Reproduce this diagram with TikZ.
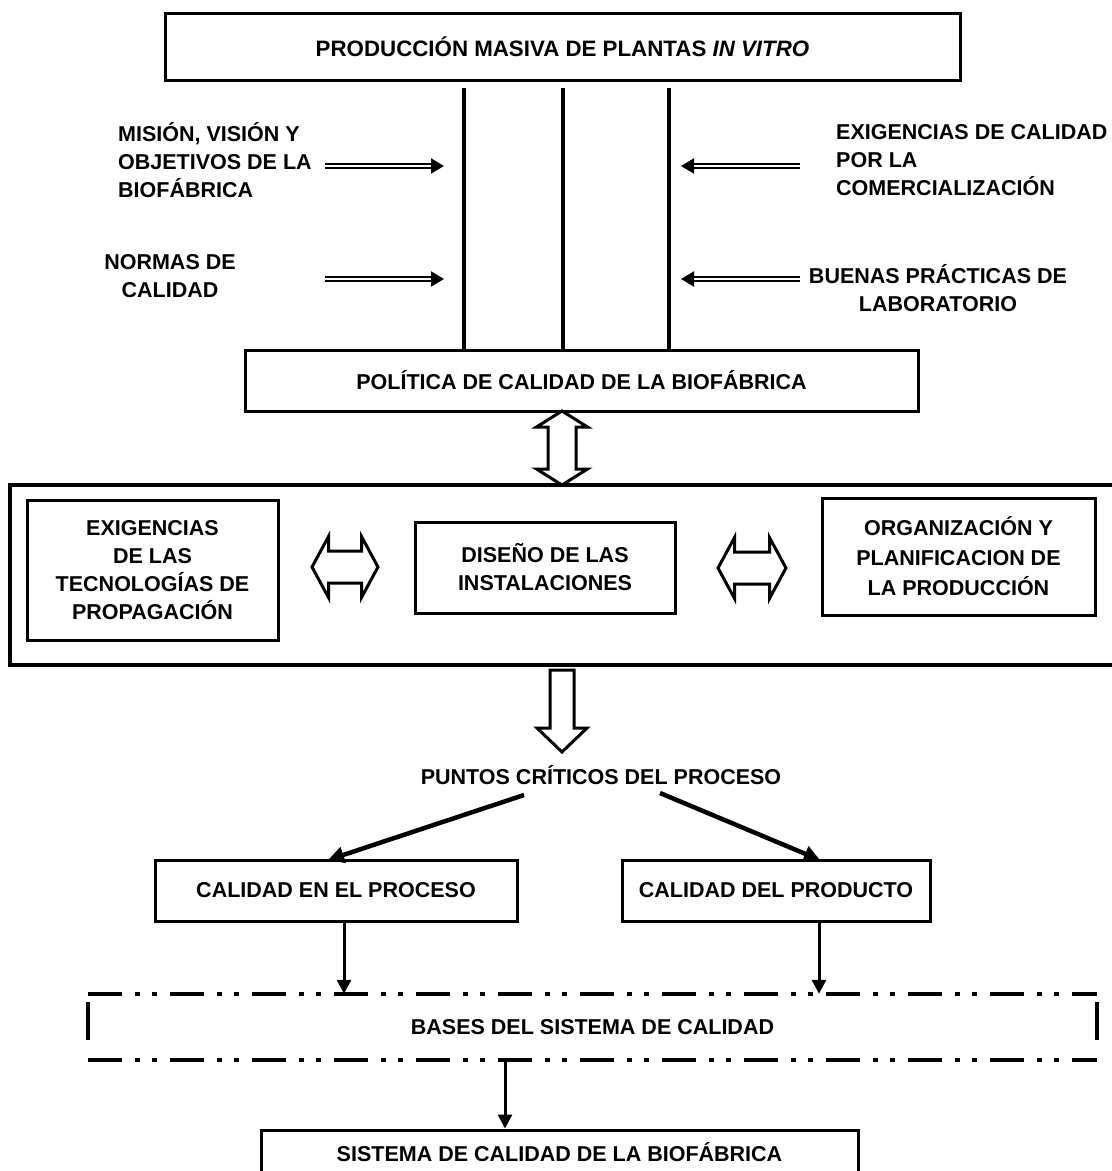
\documentclass[tikz,border=0pt]{standalone}
\usepackage{fontspec}
\setmainfont{Liberation Sans}
\usetikzlibrary{arrows.meta,calc}
\newcommand{\fsz}{\fontsize{21.5}{28}\selectfont\bfseries}
\begin{document}
\begin{tikzpicture}[x=1pt,y=-1pt,
  box/.style={draw, line width=3pt, align=center, font=\fsz, inner sep=0pt},
  lbl/.style={font=\fsz, inner sep=0pt},
  vline/.style={line width=3.2pt},
  dbl/.style={double, double distance=1.8pt, line width=2pt, -{Triangle[length=13pt,width=15pt]}},
  hollow/.style={draw, line width=3pt, line join=miter, fill=white},
  arr/.style={line width=3pt, -{Triangle[length=14pt,width=14pt]}},
  diag/.style={line width=4.5pt, -{Triangle[length=16pt,width=16pt]}},
  dd/.style={line width=4pt, dash pattern=on 34pt off 13pt on 5pt off 12pt on 5pt off 13pt}]
\useasboundingbox (0,0) rectangle (1112,1171);

% top box
\node[box, minimum width=795pt, minimum height=67pt, font=\fontsize{22.3}{28}\selectfont\bfseries] (top) at (562.5,46.5) {PRODUCCIÓN MASIVA DE PLANTAS \textit{IN VITRO}};
% policy box
\node[box, minimum width=673pt, minimum height=61pt] (pol) at (581.5,380.5) {POLÍTICA DE CALIDAD DE LA BIOFÁBRICA};

% vertical lines
\coordinate (v1) at (464,88);
\coordinate (v2) at (563,88);
\coordinate (v3) at (669,88);
\draw[vline] (v1) -- (v1 |- pol.north);
\draw[vline] (v2) -- (v2 |- pol.north);
\draw[vline] (v3) -- (v3 |- pol.north);

% side labels
\node[lbl, align=left, anchor=west] (mis) at (118,160) {MISIÓN, VISIÓN Y\\OBJETIVOS DE LA\\BIOFÁBRICA};
\node[lbl, align=center] (nor) at (170,276.5) {NORMAS DE\\CALIDAD};
\node[lbl, align=left, anchor=west] (exi) at (836,160) {EXIGENCIAS DE CALIDAD\\POR LA\\COMERCIALIZACIÓN};
\node[lbl, align=center] (bue) at (938,288) {BUENAS PRÁCTICAS DE\\LABORATORIO};

% double-line arrows
\coordinate (a1s) at (325,166); \coordinate (a1e) at (444,166);
\coordinate (a2s) at (325,279); \coordinate (a2e) at (444,279);
\coordinate (a3s) at (800,166); \coordinate (a3e) at (681,166);
\coordinate (a4s) at (800,279); \coordinate (a4e) at (681,279);
\draw[dbl] (a1s) -- (a1e);
\draw[dbl] (a2s) -- (a2e);
\draw[dbl] (a3s) -- (a3e);
\draw[dbl] (a4s) -- (a4e);

% vertical hollow double arrow
\draw[hollow] (562,411) -- (587.5,427) -- (576,427) -- (576,469) -- (587.5,469) -- (562,485)
  -- (536.5,469) -- (548,469) -- (548,427) -- (536.5,427) -- cycle;

% big box
\node[draw, line width=4.5pt, minimum width=1115pt, minimum height=180pt, inner sep=0pt] (big) at (567.5,575) {};
\node[box, minimum width=251pt, minimum height=140pt] (tec) at (152.5,570) {EXIGENCIAS\\DE LAS\\TECNOLOGÍAS DE\\PROPAGACIÓN};
\node[box, minimum width=260pt, minimum height=91pt] (dis) at (545,567.5) {DISEÑO DE LAS\\INSTALACIONES};
\node[box, minimum width=273pt, minimum height=117pt, font=\fontsize{21.5}{30}\selectfont\bfseries] (org) at (958.5,556.5) {ORGANIZACIÓN Y\\PLANIFICACION DE\\LA PRODUCCIÓN};

% horizontal hollow double arrows
\draw[hollow] (312,567) -- (328.5,536.5) -- (328.5,551) -- (361.5,551) -- (361.5,536.5) -- (378,567)
  -- (361.5,597.5) -- (361.5,583) -- (328.5,583) -- (328.5,597.5) -- cycle;
\draw[hollow] (718,568) -- (734.5,537.5) -- (734.5,552) -- (769.5,552) -- (769.5,537.5) -- (786,568)
  -- (769.5,598.5) -- (769.5,584) -- (734.5,584) -- (734.5,598.5) -- cycle;

% hollow down arrow
\draw[hollow] (550,670) -- (574,670) -- (574,728) -- (587,728) -- (562,752) -- (537,728) -- (550,728) -- cycle;

\node[lbl] (pun) at (601,775) {PUNTOS CRÍTICOS DEL PROCESO};

\node[box, minimum width=362pt, minimum height=61pt] (cep) at (336,890.5) {CALIDAD EN EL PROCESO};
\node[box, minimum width=308pt, minimum height=61pt] (cdp) at (776,890.5) {CALIDAD DEL PRODUCTO};

\coordinate (dl1) at (524,795); \coordinate (dl2) at (328,860);
\coordinate (dr1) at (660,793); \coordinate (dr2) at (820,860);
\draw[diag] (dl1) -- (dl2);
\draw[diag] (dr1) -- (dr2);

% bases box
\node[lbl, minimum width=1009pt, minimum height=66pt] (bas) at (592.5,1027) {BASES DEL SISTEMA DE CALIDAD};
\draw[dd] (bas.north west) -- (bas.north east);
\draw[dd] (bas.south west) -- (bas.south east);
\draw[line width=4pt] ($(bas.north west)+(0,8)$) -- ($(bas.south west)+(0,-20)$);
\draw[line width=4pt] ($(bas.north east)+(0,8)$) -- ($(bas.south east)+(0,-20)$);

\coordinate (c1) at (344,921); \coordinate (c2) at (819,921);
\draw[arr] (c1) -- (c1 |- bas.north);
\draw[arr] (c2) -- (c2 |- bas.north);

% final box
\node[box, minimum width=597pt, minimum height=44pt] (fin) at (559.5,1152) {SISTEMA DE CALIDAD DE LA BIOFÁBRICA};
\coordinate (c3) at (505,1060);
\draw[arr] (c3) -- (c3 |- fin.north);
\end{tikzpicture}
\end{document}
